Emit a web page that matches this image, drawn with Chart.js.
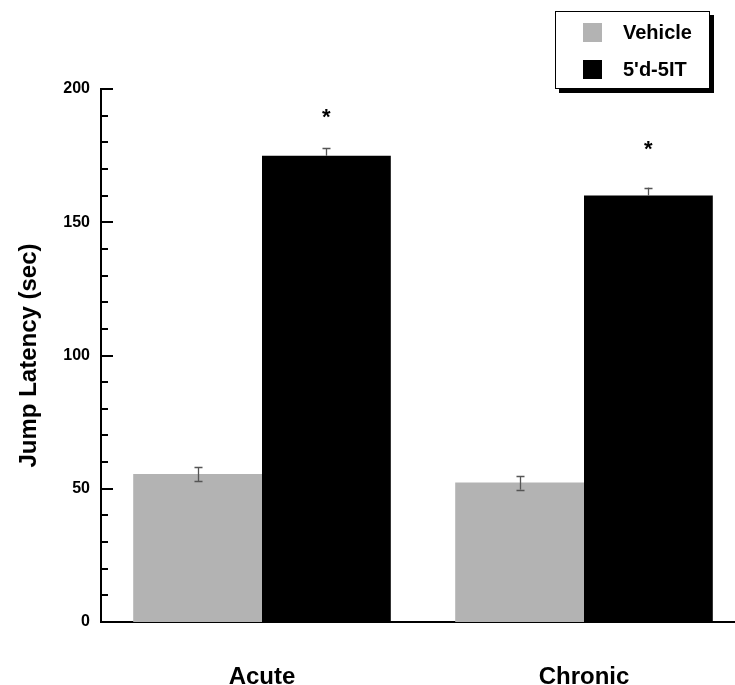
<!DOCTYPE html>
<html>
<head>
<meta charset="utf-8">
<script src="https://cdn.jsdelivr.net/npm/chart.js@4.4.1/dist/chart.umd.min.js"></script>
<style>
  html, body { margin: 0; padding: 0; background: #fff; overflow: hidden; }
  #wrap { position: relative; width: 735px; height: 685px; overflow: hidden; }
  #box { position: absolute; left: 0; top: 0; width: 745px; height: 685px; }
  #legend {
    position: absolute; left: 555px; top: 11px; width: 153px; height: 76px;
    border: 1px solid #000; box-shadow: 4px 4px 0 #000; background: #fff;
    font: bold 20px "Liberation Sans", Arial, sans-serif; color: #000;
  }
  #legend .item { position: absolute; left: 27px; height: 19px; line-height: 19px; }
  #legend .sw { display: inline-block; width: 19px; height: 19px; vertical-align: top; }
  #legend .txt { position: absolute; left: 40px; top: 0; white-space: nowrap; }
</style>
</head>
<body>
<div id="wrap">
  <div id="box"><canvas id="chart" width="745" height="685"></canvas></div>
  <div id="legend"></div>
</div>
<script>
// data
const groups = ["Acute", "Chronic"];
const seriesNames = ["Vehicle", "5'd-5IT"];
const vehicleMean = [55.5, 52.3];
const vehicleErr = [2.6, 2.6];
const drugMean = [175, 160];
const drugErr = [3, 3];
const sigMarkY = [190, 178];   // where the * sits, in axis units
const yTicksMajor = 50;
const yTicksMinor = 10;

const FONT = "'Liberation Sans', Arial, sans-serif";

// error bars + significance stars, drawn through the scales
const errorBarPlugin = {
  id: "errorBars",
  afterDatasetsDraw(chart) {
    const ctx = chart.ctx;
    const y = chart.scales.y;
    chart.data.datasets.forEach((ds, di) => {
      const meta = chart.getDatasetMeta(di);
      meta.data.forEach((bar, i) => {
        const v = ds.data[i], e = ds.errors[i];
        const top = y.getPixelForValue(v + e);
        const mid = y.getPixelForValue(v);
        const bot = y.getPixelForValue(v - e);
        const x = Math.round(bar.x) + 0.5;
        ctx.save();
        ctx.strokeStyle = "#555";
        ctx.lineWidth = 1.3;
        ctx.beginPath();
        ctx.moveTo(x, top); ctx.lineTo(x, ds.dark ? mid : bot);
        ctx.moveTo(x - 4, Math.round(top) + 0.5); ctx.lineTo(x + 4, Math.round(top) + 0.5);
        if (!ds.dark) {
          ctx.moveTo(x - 4, Math.round(bot) + 0.5); ctx.lineTo(x + 4, Math.round(bot) + 0.5);
        }
        ctx.stroke();
        if (ds.stars) {
          ctx.fillStyle = "#000";
          ctx.font = "bold 22px " + FONT;
          ctx.textAlign = "center";
          ctx.textBaseline = "middle";
          ctx.fillText("*", bar.x, y.getPixelForValue(ds.stars[i]) + 2);
        }
        ctx.restore();
      });
    });
  }
};

// tick marks drawn into the plot, long on the majors
const innerTicksPlugin = {
  id: "innerTicks",
  afterDraw(chart) {
    const ctx = chart.ctx;
    const y = chart.scales.y;
    const x0 = chart.chartArea.left;
    ctx.save();
    ctx.strokeStyle = "#000";
    ctx.lineWidth = 2;
    y.ticks.forEach(t => {
      if (t.value === 0) return;
      const py = Math.round(y.getPixelForValue(t.value));
      const len = t.value % yTicksMajor === 0 ? 12 : 7;
      ctx.beginPath();
      ctx.moveTo(x0, py);
      ctx.lineTo(x0 + len, py);
      ctx.stroke();
    });
    ctx.restore();
  }
};

const chart = new Chart(document.getElementById("chart"), {
  type: "bar",
  data: {
    labels: groups,
    datasets: [
      { label: seriesNames[0], data: vehicleMean, errors: vehicleErr, backgroundColor: "#b3b3b3", dark: false },
      { label: seriesNames[1], data: drugMean, errors: drugErr, backgroundColor: "#000000", dark: true, stars: sigMarkY }
    ]
  },
  options: {
    responsive: false,
    animation: false,
    layout: { padding: { top: 89, right: 0, bottom: 0, left: 0 } },
    datasets: { bar: { categoryPercentage: 0.8, barPercentage: 1.0 } },
    plugins: { legend: { display: false }, tooltip: { enabled: false } },
    scales: {
      x: {
        grid: { display: false },
        border: { display: true, color: "#000", width: 2 },
        ticks: { color: "#000", padding: 33, font: { family: FONT, size: 24, weight: "bold" } },
        afterFit(scale) { scale.height = 63; }
      },
      y: {
        min: 0, max: 200,
        grid: { display: false, drawTicks: false },
        border: { display: true, color: "#000", width: 2 },
        ticks: {
          stepSize: yTicksMinor, autoSkip: false, color: "#000", padding: 11,
          font: { family: FONT, size: 16, weight: "bold" },
          callback: v => (v % yTicksMajor === 0 ? v : "")
        },
        title: {
          display: true, text: "Jump Latency (sec)", color: "#000",
          padding: { top: 15, bottom: 0 },
          font: { family: FONT, size: 24, weight: "bold" }
        },
        afterFit(scale) { scale.width = 101; }
      }
    }
  },
  plugins: [errorBarPlugin, innerTicksPlugin]
});

// legend box with drop shadow, built from the chart's datasets
const legend = document.getElementById("legend");
chart.data.datasets.forEach((ds, i) => {
  const item = document.createElement("div");
  item.className = "item";
  item.style.top = (11 + i * 37) + "px";
  item.innerHTML = '<span class="sw" style="background:' + ds.backgroundColor + '"></span><span class="txt"></span>';
  item.querySelector(".txt").textContent = ds.label;
  legend.appendChild(item);
});
</script>
</body>
</html>
